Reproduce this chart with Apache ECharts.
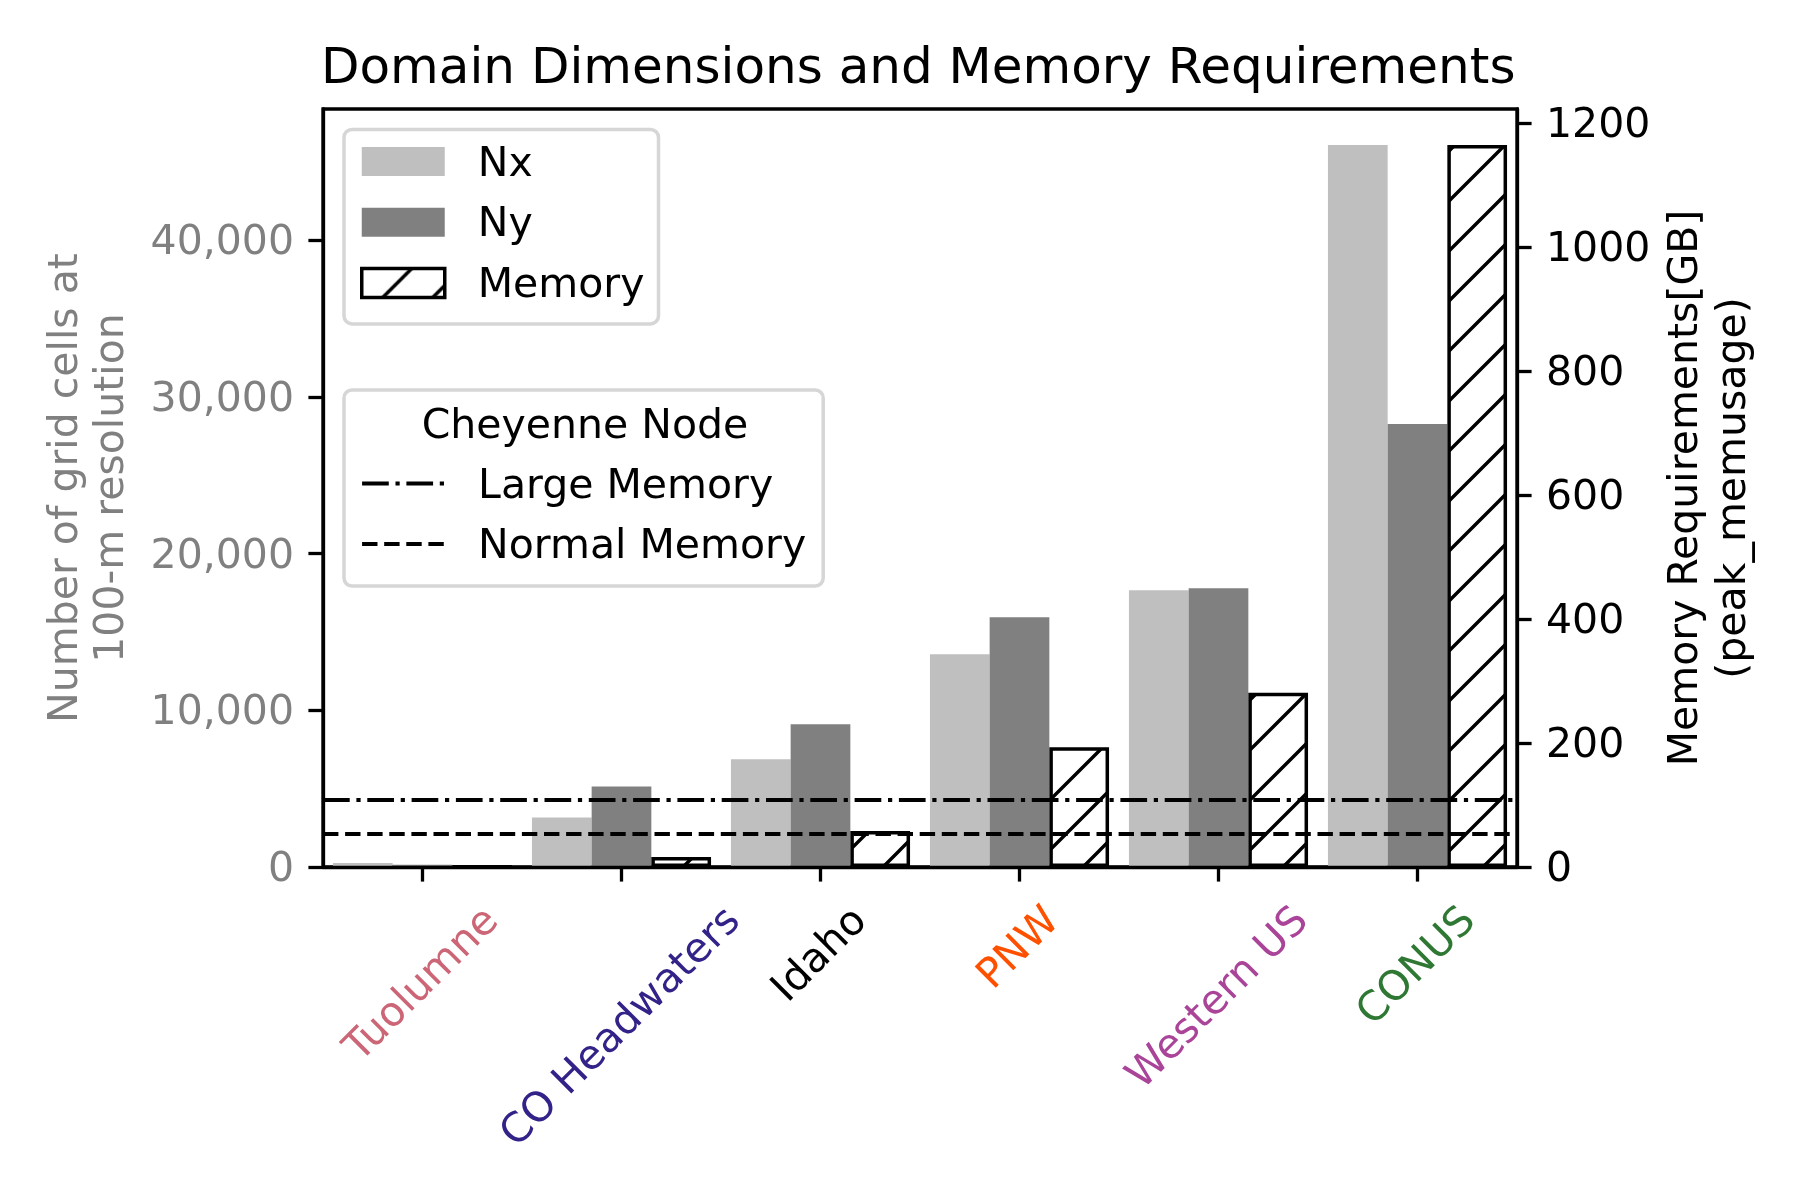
<!DOCTYPE html>
<html>
<head>
<meta charset="utf-8">
<script src="https://cdn.jsdelivr.net/npm/echarts@6/dist/echarts.min.js"></script>
<style>html,body{margin:0;padding:0;background:#fff}#c{width:1800px;height:1200px}</style>
</head>
<body>
<div id="c"></div>
<script>
// ---- data ----
const categories = ['Tuolumne', 'CO Headwaters', 'Idaho', 'PNW', 'Western US', 'CONUS'];
const categoryColors = ['#CC6677', '#332288', '#000000', '#FF5000', '#AA4499', '#2F7834'];
const nx = [260, 3160, 6870, 13570, 17660, 46070];
const ny = [150, 5130, 9110, 15940, 17790, 28270];
const memoryGB = [0.5, 16, 58, 193, 281, 1164];
const largeMemoryGB = 108;
const normalMemoryGB = 53;
const leftTicks = [0, 10000, 20000, 30000, 40000];
const rightTicks = [0, 200, 400, 600, 800, 1000, 1200];

const F = '"DejaVu Sans", sans-serif';
const FS = 41;

function hatchCanvas() {
  const c = document.createElement('canvas');
  c.width = 50; c.height = 50;
  const g = c.getContext('2d');
  g.fillStyle = '#fff'; g.fillRect(0, 0, 50, 50);
  g.strokeStyle = '#000'; g.lineWidth = 3.4;
  g.beginPath();
  g.moveTo(-10, 60); g.lineTo(60, -10);
  g.moveTo(-10, 10); g.lineTo(10, -10);
  g.moveTo(40, 60); g.lineTo(60, 40);
  g.stroke();
  return c;
}
const hatch = { image: hatchCanvas(), repeat: 'repeat' };

function commas(v) { return String(v).replace(/\B(?=(\d{3})+(?!\d))/g, ','); }
function plain(v) { return String(v); }

const dashDot = [26.7, 6.7, 4.2, 6.7];
const dashed = [15.4, 6.7];
const clear = 'rgba(0,0,0,0)';

const chart = echarts.init(document.getElementById('c'), null, { renderer: 'canvas' });

// text is drawn on the second of two short lines so that its centre sits a little below the icon centre
const legendText = { fontSize: FS, fontFamily: F, color: '#000', lineHeight: 7, padding: [0, 0, 0, 28] };
const legendFmt = name => '\n' + name;

const option = {
  animation: false,
  backgroundColor: '#fff',
  title: {
    text: 'Domain Dimensions and Memory Requirements',
    left: 321, top: 45.5, padding: 0,
    textStyle: { fontSize: 50, fontWeight: 'normal', color: '#000', fontFamily: F, lineHeight: 50 }
  },
  grid: {
    left: 323, right: 283, top: 109, bottom: 333,
    show: true, borderColor: '#000', borderWidth: 3.3, backgroundColor: 'transparent',
    containLabel: false, outerBoundsMode: 'none'
  },
  legend: [
    {
      data: [
        { name: 'Nx' },
        { name: 'Ny' },
        { name: 'Memory', itemStyle: { borderColor: '#000', borderWidth: 3.5 } }
      ],
      formatter: legendFmt,
      orient: 'vertical', left: 344, top: 129.5,
      padding: [8, 14, 17, 16], itemGap: 12.7,
      itemWidth: 83, itemHeight: 29, icon: 'rect', selectedMode: false,
      backgroundColor: '#fff', borderColor: '#d6d6d6', borderWidth: 3.5, borderRadius: 8,
      textStyle: legendText
    },
    {
      data: [
        { name: 'Large Memory', itemStyle: { color: clear, borderColor: clear, borderWidth: 0 },
          lineStyle: { color: '#000', width: 4.17, type: dashDot } },
        { name: 'Normal Memory', itemStyle: { color: clear, borderColor: clear, borderWidth: 0 },
          lineStyle: { color: '#000', width: 4.17, type: dashed } }
      ],
      formatter: legendFmt,
      orient: 'vertical', left: 344, top: 390,
      padding: [69.5, 17, 18, 16], itemGap: 12.5,
      itemWidth: 83, itemHeight: 29, selectedMode: false,
      lineStyle: { color: '#000', width: 4.17 },
      backgroundColor: '#fff', borderColor: '#d6d6d6', borderWidth: 3.5, borderRadius: 8,
      textStyle: legendText
    }
  ],
  xAxis: {
    type: 'category', data: categories, z: 10,
    axisLine: { show: true, onZero: false, lineStyle: { color: '#000', width: 3.3 } },
    axisTick: { show: true, alignWithLabel: true, interval: 0, length: 14.6, lineStyle: { color: '#000', width: 3.3 } },
    axisLabel: { show: false, interval: 0 },
    splitLine: { show: false }
  },
  yAxis: [
    {
      type: 'value', position: 'left', min: 0, max: Math.max(...nx) * 1.05, z: 10,
      axisLine: { show: true, lineStyle: { color: '#000', width: 3.3 } },
      axisTick: { show: true, inside: false, length: 14.6, customValues: leftTicks, lineStyle: { color: '#000', width: 3.3 } },
      axisLabel: { customValues: leftTicks, color: '#808080', fontSize: FS, fontFamily: F, margin: 29,
        formatter: commas, verticalAlign: 'top', lineHeight: 7 },
      splitLine: { show: false },
      name: 'Number of grid cells at\n100-m resolution',
      nameLocation: 'middle', nameRotate: 90, nameGap: 188, nameMoveOverlap: false,
      nameTextStyle: { color: '#808080', fontSize: FS, fontFamily: F, lineHeight: 46 }
    },
    {
      type: 'value', position: 'right', min: 0, max: Math.max(...memoryGB) * 1.05, z: 10,
      axisLine: { show: true, lineStyle: { color: '#000', width: 3.3 } },
      axisTick: { show: true, inside: false, length: 14.6, customValues: rightTicks, lineStyle: { color: '#000', width: 3.3 } },
      axisLabel: { customValues: rightTicks, color: '#000', fontSize: FS, fontFamily: F, margin: 29,
        formatter: plain, verticalAlign: 'top', lineHeight: 7 },
      splitLine: { show: false },
      name: 'Memory Requirements[GB]\n(peak_memusage)',
      nameLocation: 'middle', nameRotate: 90, nameGap: 145, nameMoveOverlap: false,
      nameTextStyle: { color: '#000', fontSize: FS, fontFamily: F, lineHeight: 48 }
    }
  ],
  series: [
    { name: 'Nx', type: 'bar', data: nx, yAxisIndex: 0, barWidth: '30%', barGap: '0%',
      itemStyle: { color: '#bfbfbf' }, emphasis: { disabled: true } },
    { name: 'Ny', type: 'bar', data: ny, yAxisIndex: 0, barWidth: '30%', barGap: '0%',
      itemStyle: { color: '#808080' }, emphasis: { disabled: true } },
    { name: 'Memory', type: 'bar', data: memoryGB, yAxisIndex: 1, barWidth: '30%', barGap: '0%',
      itemStyle: { color: hatch, borderColor: '#000', borderWidth: 3.5 }, emphasis: { disabled: true } },
    { name: 'Large Memory', type: 'line', yAxisIndex: 1, data: categories.map(() => null), symbol: 'none',
      lineStyle: { color: '#000', width: 4.17, type: dashDot },
      itemStyle: { color: clear, borderColor: clear, borderWidth: 0 },
      emphasis: { disabled: true },
      markLine: { silent: true, symbol: ['none', 'none'], label: { show: false }, z: 6,
        lineStyle: { color: '#000', width: 4.17, type: dashDot }, emphasis: { disabled: true },
        data: [{ yAxis: largeMemoryGB }] } },
    { name: 'Normal Memory', type: 'line', yAxisIndex: 1, data: categories.map(() => null), symbol: 'none',
      lineStyle: { color: '#000', width: 4.17, type: dashed },
      itemStyle: { color: clear, borderColor: clear, borderWidth: 0 },
      emphasis: { disabled: true },
      markLine: { silent: true, symbol: ['none', 'none'], label: { show: false }, z: 6,
        lineStyle: { color: '#000', width: 4.17, type: dashed }, emphasis: { disabled: true },
        data: [{ yAxis: normalMemoryGB }] } }
  ]
};

chart.setOption(option);

// rotated category labels, centred under each tick like matplotlib's rotation=45, ha='center'
const mctx = document.createElement('canvas').getContext('2d');
const font = FS + 'px "DejaVu Sans"';
mctx.font = font;
const axisY = chart.convertToPixel({ yAxisIndex: 0 }, 0);
const labelTop = axisY + 14.6 + 14.6 + 2;
const lineH = FS * 1.17;
const graphics = categories.map((c, i) => {
  const x = chart.convertToPixel({ xAxisIndex: 0 }, c);
  const w = mctx.measureText(c).width;
  const H = (w + lineH) / Math.SQRT2;
  return {
    type: 'text', x: x, y: labelTop + H / 2, rotation: Math.PI / 4, z: 100, silent: true,
    style: { text: c, fill: categoryColors[i], font: font,
      align: 'center', verticalAlign: 'middle', textAlign: 'center', textVerticalAlign: 'middle' }
  };
});
graphics.push({
  type: 'text', x: 585, y: 427, z: 100, silent: true,
  style: { text: 'Cheyenne Node', fill: '#000', font: font,
    align: 'center', verticalAlign: 'middle', textAlign: 'center', textVerticalAlign: 'middle' }
});
chart.setOption({ graphic: graphics });
</script>
</body>
</html>
